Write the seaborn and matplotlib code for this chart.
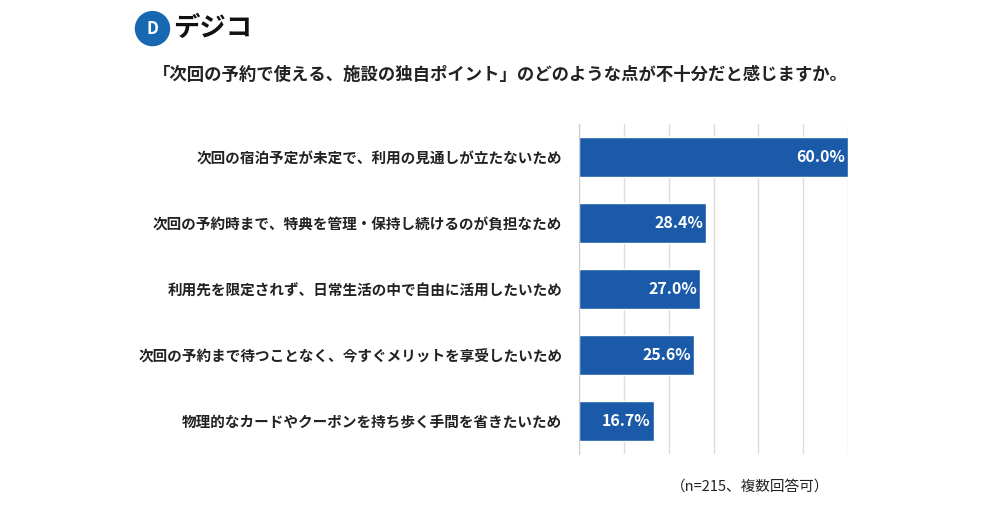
import matplotlib
matplotlib.use("Agg")
import matplotlib.pyplot as plt
from matplotlib.patches import Ellipse
import seaborn as sns
import pandas as pd

labels = [
    "次回の宿泊予定が未定で、利用の見通しが立たないため",
    "次回の予約時まで、特典を管理・保持し続けるのが負担なため",
    "利用先を限定されず、日常生活の中で自由に活用したいため",
    "次回の予約まで待つことなく、今すぐメリットを享受したいため",
    "物理的なカードやクーポンを持ち歩く手間を省きたいため",
]
values = [60.0, 28.4, 27.0, 25.6, 16.7]
df = pd.DataFrame({"label": labels, "value": values})

sns.set_style("white")
plt.rcParams["font.family"] = ["Noto Sans CJK JP", "DejaVu Sans"]

fig = plt.figure(figsize=(10, 5.2), dpi=100)
ax = fig.add_axes([0.579, 0.127, 0.269, 0.635])
sns.barplot(data=df, x="value", y="label", color="#1a5aa8", saturation=1, width=0.6, ax=ax)
ax.set_xlim(0, 60)
ax.set_ylim(4.5, -0.5)
ax.set_xticks(range(0, 61, 10))
ax.grid(axis="x", color="#dddddd", linewidth=1)
ax.set_axisbelow(True)
for s in ["top", "right", "bottom"]:
    ax.spines[s].set_visible(False)
ax.spines["left"].set_color("#cccccc")
ax.set_xticklabels([])
ax.tick_params(axis="x", length=0)
ax.tick_params(axis="y", length=0, pad=12, labelsize=10.5)
for t in ax.get_yticklabels():
    t.set_fontweight("bold")
    t.set_color("#222222")
ax.set_xlabel("")
ax.set_ylabel("")
for i, v in enumerate(values):
    ax.text(v - 0.7, i, f"{v:.1f}%", ha="right", va="center", color="white",
            fontsize=11.5, fontweight="bold")

fig.text(0.5, 0.855, "「次回の予約で使える、施設の独自ポイント」のどのような点が不十分だと感じますか。",
         ha="center", va="center", fontsize=12.5, fontweight="bold", color="#222222")
fig.text(0.75, 0.065, "（n=215、複数回答可）", ha="center", va="center", fontsize=10.5, color="#222222")

# logo
fig.patches.append(Ellipse((0.1525, 0.945), 0.034, 0.034 * 1000 / 520,
                           transform=fig.transFigure, color="#1768b0", figure=fig))
fig.text(0.1525, 0.945, "D", ha="center", va="center", color="white", fontsize=12, fontweight="bold")
fig.text(0.173, 0.945, "デジコ", ha="left", va="center", fontsize=19, fontweight="bold", color="#111111")

fig.savefig("out.png", dpi=100, facecolor="white")
